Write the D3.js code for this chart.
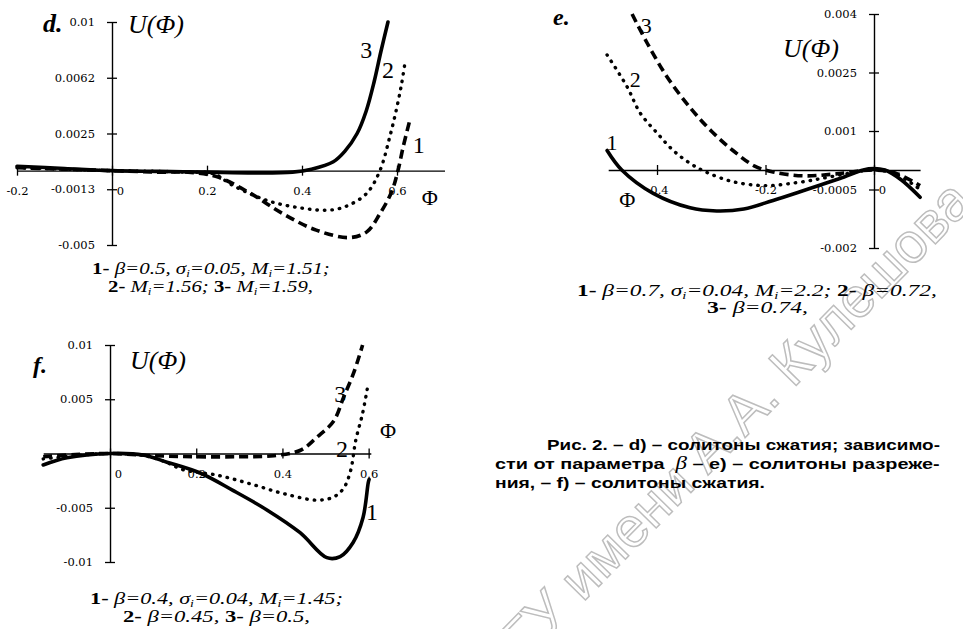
<!DOCTYPE html>
<html>
<head>
<meta charset="utf-8">
<script src="https://cdn.jsdelivr.net/npm/d3@7"></script>
<style>
  body { margin: 0; background: #fff; }
  svg { display: block; }
  text { white-space: pre; }
</style>
</head>
<body>
<svg id="chart" width="963" height="629"></svg>
<script>
// ---- panel d: compression solitons, M_i varies ----
const dTicksX = [-0.2, 0, 0.2, 0.4, 0.6];
const dLabelsX = ["-0.2", "0", "0.2", "0.4", "0.6"];
const dTicksY = [0.01, 0.00625, 0.0025, -0.00125, -0.005];
const dLabelsY = ["0.01", "0.0062", "0.0025", "-0.0013", "-0.005"];
// [phi, U]
const dCurve1 = [[-0.2, 0.0002], [-0.1, 0.0001], [0, 0], [0.1, -0.0001], [0.16, -0.0001], [0.22, -0.0004],
  [0.29, -0.0015], [0.36, -0.0029], [0.43, -0.004], [0.5, -0.0045], [0.537, -0.0041], [0.564, -0.0029],
  [0.589, -0.0014], [0.602, 0], [0.613, 0.0016], [0.627, 0.0034]];
const dCurve2 = [[-0.2, 0.0002], [-0.1, 0.0001], [0, 0], [0.1, -0.00005], [0.16, -0.0001], [0.213, -0.0002],
  [0.255, -0.001], [0.326, -0.002], [0.396, -0.0025], [0.46, -0.00265], [0.5, -0.0023], [0.537, -0.0015],
  [0.564, 0], [0.585, 0.0023], [0.6, 0.0043], [0.61, 0.0059], [0.617, 0.0073]];
const dCurve3 = [[-0.2, 0.0003], [-0.1, 0.00015], [0, 0], [0.1, -0.00005], [0.2, -0.0001], [0.3, -0.00015],
  [0.38, -0.0001], [0.42, 0.0001], [0.466, 0.0006], [0.49, 0.0013], [0.516, 0.0025], [0.535, 0.004],
  [0.552, 0.006], [0.566, 0.008], [0.581, 0.01]];

// ---- panel e: rarefaction solitons, beta varies ----
const eTicksX = [-0.4, -0.2, 0];
const eLabelsX = ["-0.4", "-0.2", "0"];
const eTicksY = [0.004, 0.0025, 0.001, -0.0005, -0.002];
const eLabelsY = ["0.004", "0.0025", "0.001", "-0.0005", "-0.002"];
const eCurve1 = [[-0.492, 0.0005], [-0.465, 0], [-0.407, -0.0006], [-0.339, -0.00097], [-0.29, -0.00105],
  [-0.24, -0.001], [-0.186, -0.00078], [-0.124, -0.0005], [-0.063, -0.00022], [-0.01, 0.00003], [0.02, 0],
  [0.05, -0.00025], [0.085, -0.0007]];
const eCurve2 = [[-0.492, 0.00295], [-0.455, 0.00213], [-0.431, 0.00146], [-0.4, 0.00095], [-0.37, 0.0005],
  [-0.34, 0.00018], [-0.31, -0.00005], [-0.26, -0.0003], [-0.2, -0.0004], [-0.14, -0.00032], [-0.09, -0.0002],
  [-0.04, -0.00007], [0, 0], [0.04, -0.0001], [0.085, -0.0005]];
const eCurve3 = [[-0.446, 0.004], [-0.418, 0.00325], [-0.382, 0.0024], [-0.339, 0.0016], [-0.3, 0.001],
  [-0.26, 0.0005], [-0.22, 0.0001], [-0.186, -0.00005], [-0.13, -0.00015], [-0.07, -0.0001], [0, 0],
  [0.04, -0.00008], [0.085, -0.0004]];

// ---- panel f: compression solitons, beta varies ----
const fTicksX = [0, 0.2, 0.4, 0.6];
const fLabelsX = ["0", "0.2", "0.4", "0.6"];
const fTicksY = [0.01, 0.005, 0, -0.005, -0.01];
const fLabelsY = ["0.01", "0.005", "", "-0.005", "-0.01"];
const fCurve1 = [[-0.155, -0.00106], [-0.1, -0.0004], [0, 0], [0.077, -0.00014], [0.132, -0.0008],
  [0.209, -0.0018], [0.285, -0.0034], [0.364, -0.0052], [0.441, -0.0073], [0.503, -0.0096], [0.534, -0.0095],
  [0.564, -0.0082], [0.587, -0.0059], [0.599, -0.0027], [0.601, -0.0024]];
const fCurve2 = [[-0.155, -0.0005], [-0.08, -0.0002], [0, 0], [0.08, -0.0002], [0.13, -0.0008], [0.17, -0.0015],
  [0.249, -0.002], [0.326, -0.0028], [0.403, -0.0037], [0.48, -0.0043], [0.519, -0.004], [0.542, -0.0032],
  [0.558, -0.0016], [0.57, 0.0012], [0.586, 0.0037], [0.597, 0.006]];
const fCurve3 = [[-0.155, -0.0003], [-0.08, -0.0001], [0, 0], [0.1, -0.0002], [0.2, -0.0003], [0.3, -0.0003],
  [0.38, -0.0002], [0.442, 0.0003], [0.48, 0.0015], [0.519, 0.003], [0.542, 0.0052], [0.565, 0.0074],
  [0.586, 0.01]];

const curveNames = ["1", "2", "3"];

// captions: b = bold upright, sub = subscript
const dCaption = [
  [{t: "1- ", b: 1}, {t: "β=0.5, σ"}, {t: "i", sub: 1}, {t: "=0.05, M"}, {t: "i", sub: 1}, {t: "=1.51;"}],
  [{t: "2- ", b: 1}, {t: "M"}, {t: "i", sub: 1}, {t: "=1.56; "}, {t: "3- ", b: 1}, {t: "M"}, {t: "i", sub: 1}, {t: "=1.59,"}]
];
const eCaption = [
  [{t: "1- ", b: 1}, {t: "β=0.7, σ"}, {t: "i", sub: 1}, {t: "=0.04, M"}, {t: "i", sub: 1}, {t: "=2.2; "}, {t: "2- ", b: 1}, {t: "β=0.72,"}],
  [{t: "3- ", b: 1}, {t: "β=0.74,"}]
];
const fCaption = [
  [{t: "1- ", b: 1}, {t: "β=0.4, σ"}, {t: "i", sub: 1}, {t: "=0.04, M"}, {t: "i", sub: 1}, {t: "=1.45;"}],
  [{t: "2- ", b: 1}, {t: "β=0.45, "}, {t: "3- ", b: 1}, {t: "β=0.5,"}]
];
const figCaption = [
  [{t: "Рис. 2. – d) – солитоны сжатия; зависимо-"}],
  [{t: "сти от параметра  "}, {t: "β", greek: 1}, {t: " – e) – солитоны разреже-"}],
  [{t: "ния, – f) – солитоны сжатия."}]
];
const watermark = "МГУ имени А.А. Кулешова";

const svg = d3.select("#chart");

// watermark behind everything
svg.append("text")
  .attr("transform", "translate(961,190) rotate(-45.5)")
  .attr("text-anchor", "end")
  .attr("dominant-baseline", "central")
  .attr("font-family", "Liberation Sans, Arial, sans-serif")
  .attr("font-size", 56)
  .attr("fill", "#fff")
  .attr("stroke", "#bdbdbd")
  .attr("stroke-width", 1.5)
  .text(watermark);

const styles = {
  dash: {width: 3.6, dash: "9 5", cap: "butt"},
  dot: {width: 3.4, dash: "0.5 7", cap: "round"},
  solid: {width: 3.6, dash: null, cap: "round"}
};

const panels = [
  {
    name: "d.", xDomain: [-0.2, 0.7], xRange: [17, 444.5], yDomain: [-0.005, 0.01], yRange: [245, 22],
    ticksX: dTicksX, labelsX: dLabelsX, ticksY: dTicksY, labelsY: dLabelsY,
    series: [{data: dCurve1, style: "dash"}, {data: dCurve2, style: "dot"}, {data: dCurve3, style: "solid"}],
    curveLabels: [[0.646, 0.0012], [0.581, 0.00623], [0.535, 0.0076]], curveFont: 24,
    phiLabel: [0.669, -0.0023], nameAt: [43, 32, 26], uAt: [128, 33],
    caption: dCaption, capBox: [[92, 330, 274], [108, 313, 292]]
  },
  {
    name: "e.", xDomain: [-0.49, 0.085], xRange: [608.2, 920.1], yDomain: [-0.002, 0.004], yRange: [248, 14],
    ticksX: eTicksX, labelsX: eLabelsX, ticksY: eTicksY, labelsY: eLabelsY,
    series: [{data: eCurve1, style: "solid"}, {data: eCurve2, style: "dot"}, {data: eCurve3, style: "dash"}],
    curveLabels: [[-0.483, 0.00051], [-0.44, 0.00213], [-0.42, 0.00351]], curveFont: 22,
    phiLabel: [-0.455, -0.00095], nameAt: [553, 25, 24], uAt: [783, 57],
    caption: eCaption, capBox: [[577, 937, 296], [707, 808, 313]]
  },
  {
    name: "f.", xDomain: [-0.155, 0.605], xRange: [43.2, 370.8], yDomain: [-0.01, 0.01], yRange: [562, 345],
    ticksX: fTicksX, labelsX: fLabelsX, ticksY: fTicksY, labelsY: fLabelsY,
    series: [{data: fCurve1, style: "solid"}, {data: fCurve2, style: "dot"}, {data: fCurve3, style: "dash"}],
    curveLabels: [[0.608, -0.00613], [0.538, -0.00032], [0.534, 0.00475]], curveFont: 24,
    phiLabel: [0.645, 0.00143], nameAt: [33, 373, 24], uAt: [130, 369],
    caption: fCaption, capBox: [[90, 343, 604], [123, 310, 622]]
  }
];

function fitText(t, x0, x1, baseline) {
  const w = t.node().getComputedTextLength();
  t.attr("transform", `translate(${x0},${baseline}) scale(${(x1 - x0) / w},1)`);
}

function richLine(g, segs, size, family) {
  const t = g.append("text").attr("font-family", family).attr("font-size", size).attr("fill", "#000");
  segs.forEach((s, i) => {
    const prev = i > 0 ? segs[i - 1] : null;
    const ts = t.append("tspan").text(s.t);
    if (s.b) ts.attr("font-weight", "bold").attr("font-style", "normal");
    else ts.attr("font-style", "italic");
    if (s.sub) ts.attr("font-size", size * 0.62).attr("dy", 3);
    else if (prev && prev.sub) ts.attr("dy", -3);
  });
  return t;
}

panels.forEach(p => {
  const x = d3.scaleLinear().domain(p.xDomain).range(p.xRange);
  const y = d3.scaleLinear().domain(p.yDomain).range(p.yRange);
  const g = svg.append("g");
  const x0 = x(0), y0 = y(0);

  // x axis
  const ax = g.append("g").attr("transform", `translate(0,${y0})`)
    .call(d3.axisBottom(x).tickValues(p.ticksX).tickFormat((d, i) => p.labelsX[i]).tickSize(5).tickSizeOuter(0).tickPadding(11));
  ax.select(".domain").attr("stroke-width", 1.4);
  ax.selectAll(".tick line").attr("y1", -5).attr("stroke-width", 1.3);
  ax.selectAll(".tick text").attr("font-family", "DejaVu Serif").attr("font-size", 11.5)
    .attr("dx", d => d === 0 ? 8 : 0);

  // y axis
  const ay = g.append("g").attr("transform", `translate(${x0},0)`)
    .call(d3.axisLeft(y).tickValues(p.ticksY).tickFormat((d, i) => p.labelsY[i]).tickSize(5).tickSizeOuter(0).tickPadding(12));
  ay.select(".domain").attr("stroke-width", 1.4);
  ay.selectAll(".tick line").attr("x1", 5).attr("stroke-width", 1.3);
  ay.selectAll(".tick text").attr("font-family", "DejaVu Serif").attr("font-size", 11.5);

  // curves
  const line = d3.line().x(d => x(d[0])).y(d => y(d[1])).curve(d3.curveCatmullRom.alpha(0.5));
  p.series.forEach(s => {
    const st = styles[s.style];
    g.append("path").datum(s.data).attr("d", line)
      .attr("fill", "none").attr("stroke", "#000")
      .attr("stroke-width", st.width).attr("stroke-linecap", st.cap).attr("stroke-linejoin", "round")
      .attr("stroke-dasharray", st.dash);
  });

  // curve numbers
  p.curveLabels.forEach((c, i) => {
    g.append("text").attr("x", x(c[0])).attr("y", y(c[1])).attr("text-anchor", "middle")
      .attr("font-family", "Liberation Serif").attr("font-size", p.curveFont).text(curveNames[i]);
  });

  // axis names
  g.append("text").attr("x", x(p.phiLabel[0])).attr("y", y(p.phiLabel[1])).attr("text-anchor", "middle")
    .attr("font-family", "Liberation Serif").attr("font-size", 22).text("Φ");
  g.append("text").attr("x", p.uAt[0]).attr("y", p.uAt[1])
    .attr("font-family", "Liberation Serif").attr("font-style", "italic").attr("font-size", 26).text("U(Φ)");
  g.append("text").attr("x", p.nameAt[0]).attr("y", p.nameAt[1])
    .attr("font-family", "Liberation Serif").attr("font-style", "italic").attr("font-weight", "bold")
    .attr("font-size", p.nameAt[2]).text(p.name);

  // caption lines
  p.caption.forEach((segs, i) => {
    const box = p.capBox[i];
    const t = richLine(g, segs, 16, "Liberation Serif");
    fitText(t, box[0], box[1], box[2]);
  });
});

// figure caption (Russian)
const figBoxes = [[547, 940, 450], [495, 940, 469], [495, 765, 488]];
figCaption.forEach((segs, i) => {
  const t = svg.append("text").attr("font-family", "Liberation Sans, Arial, sans-serif")
    .attr("font-size", 15.5).attr("font-weight", "bold");
  segs.forEach(s => {
    const ts = t.append("tspan").text(s.t);
    if (s.greek) ts.attr("font-family", "Liberation Serif").attr("font-style", "italic")
      .attr("font-weight", "normal").attr("font-size", 18);
  });
  fitText(t, figBoxes[i][0], figBoxes[i][1], figBoxes[i][2]);
});
</script>
</body>
</html>
